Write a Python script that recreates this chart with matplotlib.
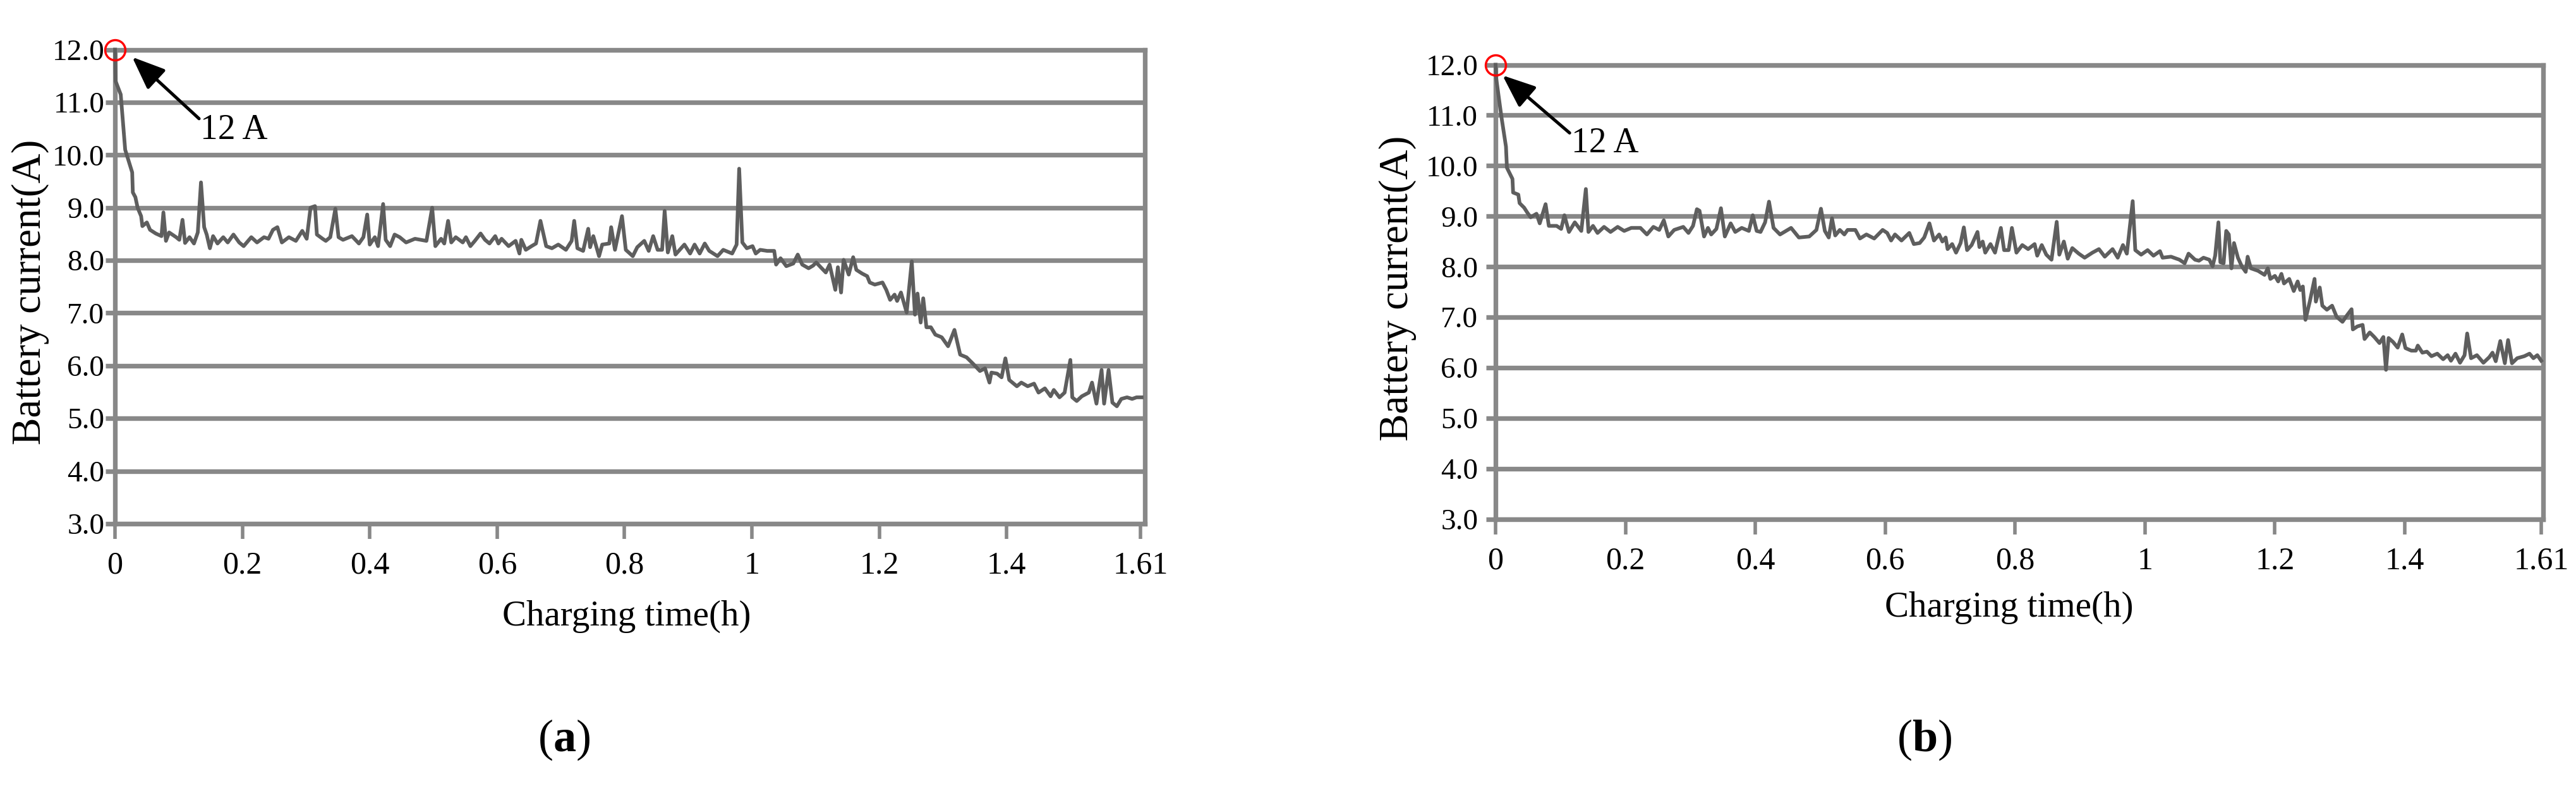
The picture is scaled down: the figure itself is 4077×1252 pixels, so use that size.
import matplotlib
matplotlib.use("Agg")
import matplotlib.pyplot as plt

# Battery charging current, panel (a)
time_a = [0, 0.001, 0.009, 0.0125, 0.016, 0.027, 0.028, 0.032, 0.0355, 0.041,
          0.043, 0.050, 0.055, 0.064, 0.073, 0.076, 0.080, 0.085, 0.096, 0.101,
          0.106, 0.110, 0.117, 0.124, 0.130, 0.135, 0.140, 0.144, 0.149, 0.154,
          0.161, 0.170, 0.177, 0.186, 0.195, 0.202, 0.214, 0.223, 0.234, 0.241,
          0.248, 0.255, 0.262, 0.273, 0.284, 0.294, 0.301, 0.307, 0.314, 0.317,
          0.326, 0.331, 0.338, 0.346, 0.351, 0.358, 0.372, 0.383, 0.390, 0.396,
          0.400, 0.408, 0.413, 0.421, 0.425, 0.432, 0.439, 0.447, 0.457, 0.471,
          0.489, 0.498, 0.503, 0.512, 0.517, 0.523, 0.528, 0.535, 0.546, 0.551,
          0.558, 0.565, 0.574, 0.581, 0.588, 0.597, 0.602, 0.607, 0.618, 0.629,
          0.635, 0.638, 0.645, 0.654, 0.661, 0.668, 0.677, 0.686, 0.696, 0.708,
          0.717, 0.721, 0.726, 0.735, 0.743, 0.746, 0.751, 0.760, 0.765, 0.776,
          0.779, 0.785, 0.796, 0.802, 0.813, 0.820, 0.831, 0.838, 0.845, 0.852,
          0.859, 0.863, 0.868, 0.875, 0.880, 0.894, 0.903, 0.910, 0.918, 0.926,
          0.933, 0.946, 0.955, 0.969, 0.976, 0.980, 0.985, 0.992, 1.001, 1.006,
          1.013, 1.024, 1.035, 1.038, 1.045, 1.054, 1.065, 1.072, 1.079, 1.089,
          1.096, 1.101, 1.108, 1.116, 1.122, 1.131, 1.135, 1.140, 1.144, 1.152,
          1.159, 1.164, 1.173, 1.181, 1.185, 1.193, 1.205, 1.211, 1.217, 1.224,
          1.228, 1.234, 1.243, 1.251, 1.256, 1.260, 1.265, 1.269, 1.274, 1.281,
          1.288, 1.298, 1.308, 1.318, 1.327, 1.337, 1.347, 1.358, 1.366, 1.373,
          1.376, 1.385, 1.392, 1.398, 1.404, 1.416, 1.423, 1.433, 1.443, 1.450,
          1.460, 1.469, 1.474, 1.483, 1.491, 1.500, 1.503, 1.510, 1.518, 1.529,
          1.534, 1.541, 1.549, 1.553, 1.560, 1.566, 1.573, 1.580, 1.589, 1.597,
          1.604, 1.612]
current_a = [12.0, 11.4, 11.15, 10.62, 10.1, 9.67, 9.29, 9.2, 9.0, 8.84,
             8.65, 8.72, 8.58, 8.51, 8.46, 8.91, 8.37, 8.53, 8.44, 8.39,
             8.77, 8.33, 8.44, 8.32, 8.53, 9.48, 8.63, 8.49, 8.23, 8.46,
             8.32, 8.44, 8.34, 8.49, 8.34, 8.27, 8.44, 8.34, 8.44, 8.41,
             8.58, 8.63, 8.34, 8.44, 8.37, 8.56, 8.41, 9.00, 9.03, 8.49,
             8.41, 8.37, 8.44, 8.98, 8.44, 8.39, 8.46, 8.32, 8.44, 8.87,
             8.30, 8.44, 8.27, 9.07, 8.39, 8.27, 8.49, 8.44, 8.34, 8.41,
             8.37, 9.00, 8.27, 8.41, 8.32, 8.75, 8.34, 8.44, 8.34, 8.44,
             8.27, 8.37, 8.51, 8.39, 8.32, 8.46, 8.32, 8.41, 8.27, 8.37,
             8.13, 8.39, 8.20, 8.27, 8.32, 8.75, 8.27, 8.23, 8.30, 8.20,
             8.37, 8.75, 8.23, 8.18, 8.60, 8.25, 8.46, 8.08, 8.30, 8.32,
             8.63, 8.20, 8.84, 8.20, 8.08, 8.25, 8.37, 8.18, 8.46, 8.20,
             8.20, 8.94, 8.15, 8.46, 8.11, 8.30, 8.13, 8.30, 8.13, 8.32,
             8.18, 8.08, 8.20, 8.13, 8.30, 9.74, 8.34, 8.23, 8.27, 8.13,
             8.20, 8.18, 8.18, 7.92, 8.04, 7.89, 7.94, 8.11, 7.92, 7.85,
             7.90, 7.96, 7.87, 7.77, 7.92, 7.44, 7.87, 7.39, 8.01, 7.73,
             8.06, 7.82, 7.75, 7.70, 7.58, 7.54, 7.58, 7.44, 7.25, 7.35,
             7.23, 7.39, 7.01, 7.98, 6.97, 7.37, 6.82, 7.28, 6.73, 6.73,
             6.59, 6.54, 6.37, 6.68, 6.21, 6.16, 6.04, 5.90, 5.95, 5.68,
             5.87, 5.85, 5.78, 6.14, 5.73, 5.61, 5.68, 5.61, 5.66, 5.49,
             5.57, 5.42, 5.54, 5.40, 5.49, 6.11, 5.40, 5.33, 5.42, 5.49,
             5.68, 5.28, 5.92, 5.28, 5.92, 5.30, 5.23, 5.37, 5.40, 5.37,
             5.40, 5.40]

# Battery charging current, panel (b)
time_b = [0, 0.001, 0.009, 0.016, 0.0175, 0.026, 0.027, 0.035, 0.037, 0.044,
          0.049, 0.054, 0.063, 0.068, 0.077, 0.082, 0.094, 0.101, 0.106, 0.113,
          0.122, 0.132, 0.139, 0.143, 0.150, 0.157, 0.167, 0.177, 0.188, 0.198,
          0.209, 0.223, 0.233, 0.243, 0.252, 0.259, 0.266, 0.275, 0.289, 0.297,
          0.304, 0.310, 0.314, 0.321, 0.327, 0.332, 0.340, 0.347, 0.353, 0.362,
          0.369, 0.379, 0.390, 0.396, 0.402, 0.408, 0.415, 0.421, 0.428, 0.438,
          0.455, 0.467, 0.483, 0.494, 0.501, 0.507, 0.513, 0.518, 0.523, 0.530,
          0.537, 0.542, 0.554, 0.561, 0.571, 0.583, 0.596, 0.603, 0.609, 0.615,
          0.625, 0.637, 0.644, 0.653, 0.660, 0.668, 0.675, 0.683, 0.688, 0.693,
          0.696, 0.703, 0.709, 0.716, 0.721, 0.726, 0.733, 0.742, 0.745, 0.750,
          0.754, 0.762, 0.769, 0.778, 0.783, 0.790, 0.795, 0.802, 0.811, 0.820,
          0.830, 0.834, 0.841, 0.848, 0.856, 0.864, 0.868, 0.875, 0.881, 0.888,
          0.898, 0.907, 0.919, 0.929, 0.938, 0.950, 0.958, 0.966, 0.972, 0.981,
          0.985, 0.994, 1.004, 1.013, 1.023, 1.027, 1.040, 1.053, 1.061, 1.067,
          1.077, 1.083, 1.090, 1.099, 1.104, 1.108, 1.113, 1.116, 1.121, 1.125,
          1.129, 1.133, 1.137, 1.143, 1.149, 1.155, 1.158, 1.163, 1.174, 1.184,
          1.189, 1.193, 1.200, 1.205, 1.210, 1.214, 1.222, 1.229, 1.235, 1.239,
          1.243, 1.247, 1.254, 1.261, 1.263, 1.269, 1.273, 1.280, 1.288, 1.295,
          1.304, 1.311, 1.318, 1.320, 1.327, 1.335, 1.338, 1.346, 1.353, 1.361,
          1.367, 1.371, 1.375, 1.382, 1.389, 1.396, 1.401, 1.410, 1.417, 1.420,
          1.427, 1.434, 1.441, 1.450, 1.459, 1.466, 1.471, 1.478, 1.485, 1.492,
          1.496, 1.502, 1.511, 1.521, 1.530, 1.535, 1.540, 1.547, 1.554, 1.559,
          1.565, 1.573, 1.584, 1.592, 1.598, 1.604, 1.610]
current_b = [12.0, 11.73, 10.97, 10.38, 9.96, 9.74, 9.47, 9.43, 9.26, 9.17,
             9.07, 8.98, 9.05, 8.86, 9.24, 8.81, 8.81, 8.75, 9.02, 8.69,
             8.88, 8.71, 9.54, 8.69, 8.81, 8.67, 8.79, 8.69, 8.79, 8.71,
             8.77, 8.77, 8.64, 8.79, 8.73, 8.92, 8.60, 8.73, 8.79, 8.67,
             8.81, 9.14, 9.11, 8.60, 8.77, 8.64, 8.75, 9.16, 8.60, 8.86,
             8.69, 8.77, 8.71, 9.02, 8.71, 8.69, 8.88, 9.29, 8.77, 8.64,
             8.77, 8.58, 8.60, 8.73, 9.15, 8.71, 8.58, 8.96, 8.62, 8.73,
             8.64, 8.73, 8.73, 8.56, 8.64, 8.56, 8.73, 8.67, 8.52, 8.64,
             8.52, 8.67, 8.45, 8.47, 8.58, 8.86, 8.52, 8.64, 8.50, 8.58,
             8.35, 8.45, 8.28, 8.47, 8.78, 8.33, 8.43, 8.69, 8.39, 8.50,
             8.28, 8.45, 8.28, 8.77, 8.33, 8.33, 8.77, 8.28, 8.43, 8.35,
             8.45, 8.22, 8.43, 8.24, 8.14, 8.89, 8.24, 8.50, 8.16, 8.37,
             8.26, 8.18, 8.28, 8.35, 8.20, 8.35, 8.18, 8.43, 8.26, 9.30,
             8.33, 8.24, 8.33, 8.22, 8.31, 8.18, 8.20, 8.14, 8.07, 8.26,
             8.14, 8.12, 8.18, 8.14, 8.01, 8.22, 8.88, 8.09, 8.07, 8.71,
             8.64, 7.97, 8.47, 8.18, 8.01, 7.90, 8.20, 7.97, 7.92, 7.84,
             7.97, 7.76, 7.82, 7.71, 7.86, 7.67, 7.76, 7.52, 7.71, 7.54,
             7.61, 6.95, 7.33, 7.76, 7.31, 7.59, 7.23, 7.15, 7.23, 7.01,
             6.91, 7.04, 7.16, 6.76, 6.82, 6.85, 6.57, 6.70, 6.61, 6.49,
             6.61, 5.96, 6.59, 6.51, 6.40, 6.66, 6.39, 6.34, 6.34, 6.44,
             6.30, 6.32, 6.23, 6.28, 6.17, 6.25, 6.14, 6.28, 6.10, 6.25,
             6.68, 6.19, 6.25, 6.10, 6.21, 6.30, 6.13, 6.53, 6.09, 6.55,
             6.09, 6.19, 6.23, 6.28, 6.19, 6.25, 6.14]

x_ticks = [0, 0.2, 0.4, 0.6, 0.8, 1.0, 1.2, 1.4, 1.61]
x_tick_labels = ["0", "0.2", "0.4", "0.6", "0.8", "1", "1.2", "1.4", "1.61"]
y_ticks = [3, 4, 5, 6, 7, 8, 9, 10, 11, 12]

plt.rcParams["font.family"] = ["Liberation Serif", "DejaVu Serif"]
plt.rcParams["mathtext.fontset"] = "custom"
plt.rcParams["mathtext.rm"] = "Liberation Serif"
plt.rcParams["mathtext.bf"] = "Liberation Serif:bold"

grid_col = "#888888"
line_col = "#5e5e5e"

fig = plt.figure(figsize=(40.77, 12.52), dpi=100)

# position, xmax, ytick pad, arrow tip/tail, text pos, label coords, caption
panels = [
    dict(rect=[0.04464, 0.33786, 0.39980, 0.59936], xmax=1.617, ypad=1,
         tip=(0.027, 11.86), tail=(0.132, 10.69), txt=(0.134, 10.30),
         ylab=(-0.0822, 0.489), xlab=(0.497, -0.196),
         t=time_a, i=current_a, cap="a", capx=0.2188),
    dict(rect=[0.58058, 0.34345, 0.40667, 0.57468], xmax=1.613, ypad=9,
         tip=(0.0107, 11.79), tail=(0.114, 10.65), txt=(0.117, 10.27),
         ylab=(-0.0935, 0.508), xlab=(0.49, -0.194),
         t=time_b, i=current_b, cap="b", capx=0.7469),
]

for p in panels:
    ax = fig.add_axes(p["rect"])
    ax.plot(p["t"], p["i"], color=line_col, lw=4.2, solid_joinstyle="round",
            zorder=3, clip_on=False)
    # red ring marking the 12 A start point
    ax.plot(p["t"][0], p["i"][0], "o", ms=23, mfc="none", mec="red",
            mew=2.5, zorder=4, clip_on=False)
    ax.annotate("", xy=p["tip"], xytext=p["tail"],
                arrowprops=dict(arrowstyle="-|>,head_length=1.6,head_width=0.65",
                                mutation_scale=20, lw=3.6, color="black",
                                shrinkA=0, shrinkB=0))
    ax.text(p["txt"][0], p["txt"][1], "12 A", fontsize=40, ha="left",
            va="baseline")

    ax.set_xlim(0, p["xmax"])
    ax.set_ylim(3, 12)
    ax.set_xticks(x_ticks)
    ax.set_xticklabels(x_tick_labels)
    ax.set_yticks(y_ticks)
    ax.set_yticklabels([f"{v:.1f}" for v in y_ticks])
    ax.grid(axis="y", color=grid_col, lw=5.3)
    ax.grid(axis="x", visible=False)
    for s in ax.spines.values():
        s.set_color(grid_col)
        s.set_linewidth(5.3)
    ax.tick_params(axis="x", length=17, width=4, color=grid_col, pad=14,
                   labelsize=36)
    ax.tick_params(axis="y", length=11, width=5.3, color=grid_col,
                   pad=p["ypad"], labelsize=34)

    ax.set_xlabel("Charging time(h)", fontsize=41, va="center")
    ax.xaxis.set_label_coords(*p["xlab"])
    ax.set_ylabel("Battery current(A)", fontsize=47, va="center")
    ax.yaxis.set_label_coords(*p["ylab"])

    fig.text(p["capx"], 0.0647, r"($\mathbf{" + p["cap"] + "}$)",
             fontsize=52, ha="center", va="center")

fig.savefig("out.png", dpi=100)
